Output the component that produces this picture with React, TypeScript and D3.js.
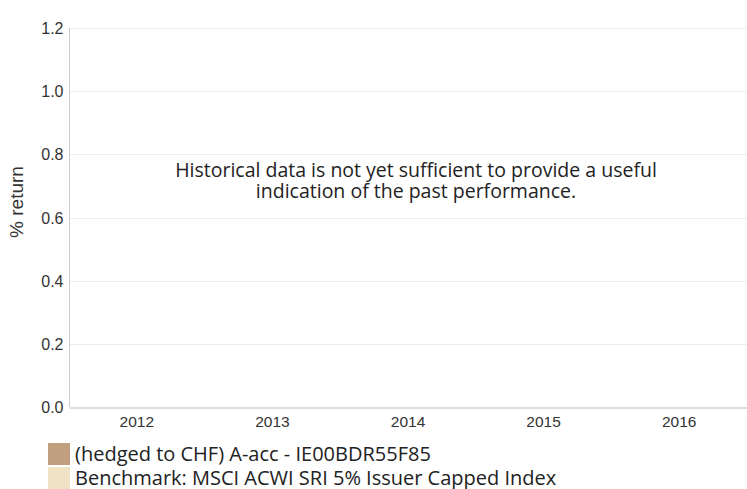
import React, { useEffect, useRef } from 'react';
import * as d3 from 'd3';

const years = ['2012', '2013', '2014', '2015', '2016'];
const yTicks = [0, 0.2, 0.4, 0.6, 0.8, 1.0, 1.2];
const seriesNames = ['(hedged to CHF) A-acc - IE00BDR55F85', 'Benchmark: MSCI ACWI SRI 5% Issuer Capped Index'];
const seriesColors = ['#c29f80', '#efe2c5'];
const message = ['Historical data is not yet sufficient to provide a useful', 'indication of the past performance.'];

const W = 747;
const H = 489;
const margin = { top: 28, right: 0, bottom: 82, left: 69 };

export default function App() {
  const ref = useRef<SVGSVGElement>(null);

  useEffect(() => {
    const svg = d3.select(ref.current);
    svg.selectAll('*').remove();

    const x = d3.scaleBand().domain(years).range([margin.left, W - margin.right]);
    const y = d3.scaleLinear().domain([0, 1.2]).range([H - margin.bottom, margin.top]);

    // gridlines
    svg.append('g')
      .selectAll('line')
      .data(yTicks.filter(d => d > 0))
      .enter()
      .append('line')
      .attr('x1', margin.left)
      .attr('x2', W - margin.right)
      .attr('y1', d => Math.round(y(d)) + 0.5)
      .attr('y2', d => Math.round(y(d)) + 0.5)
      .attr('stroke', '#ececec');

    // y axis
    const yAxis = svg.append('g')
      .attr('transform', `translate(${margin.left + 0.5},0)`)
      .call(d3.axisLeft(y).tickValues(yTicks).tickFormat(d3.format('.1f')).tickSize(0).tickPadding(6));
    yAxis.select('.domain').attr('stroke', '#cccccc').attr('d', `M0,${margin.top}V${H - margin.bottom}`);
    yAxis.selectAll('text')
      .attr('font-family', 'Liberation Sans, Arial, sans-serif')
      .attr('font-size', 16)
      .attr('fill', '#333')
      .attr('dy', '0.35em');

    // x axis
    const xAxis = svg.append('g')
      .attr('transform', `translate(0,${Math.round(y(0)) + 0.5})`)
      .call(d3.axisBottom(x).tickSize(0).tickPadding(8));
    xAxis.select('.domain').attr('stroke', '#bbbbbb');
    xAxis.selectAll('text')
      .attr('font-family', 'Liberation Sans, Arial, sans-serif')
      .attr('font-size', 15.5)
      .attr('fill', '#333');

    // y title
    svg.append('text')
      .attr('transform', `translate(23,202) rotate(-90)`)
      .attr('text-anchor', 'middle')
      .attr('font-family', 'Liberation Sans, Arial, sans-serif')
      .attr('font-size', 19)
      .attr('fill', '#333')
      .text('% return');

    // message
    svg.append('g')
      .selectAll('text')
      .data(message)
      .enter()
      .append('text')
      .attr('x', 416)
      .attr('y', (d, i) => 177 + i * 21)
      .attr('text-anchor', 'middle')
      .attr('font-family', 'Open Sans, sans-serif')
      .attr('font-size', 19.5)
      .attr('fill', '#222')
      .text(d => d);

    // legend
    const legend = svg.append('g')
      .selectAll('g')
      .data(seriesNames)
      .enter()
      .append('g')
      .attr('transform', (d, i) => `translate(48,${443 + i * 24})`);
    legend.append('rect')
      .attr('width', 22)
      .attr('height', 22)
      .attr('fill', (d, i) => seriesColors[i]);
    legend.append('text')
      .attr('x', 27)
      .attr('y', 18)
      .attr('font-family', 'Open Sans, sans-serif')
      .attr('font-size', 20)
      .attr('fill', '#222')
      .text(d => d);
  }, []);

  return (
    <div style={{ position: 'absolute', left: 0, top: 0 }}>
      <svg ref={ref} width={W} height={H} style={{ display: 'block', background: '#fff' }} />
    </div>
  );
}
